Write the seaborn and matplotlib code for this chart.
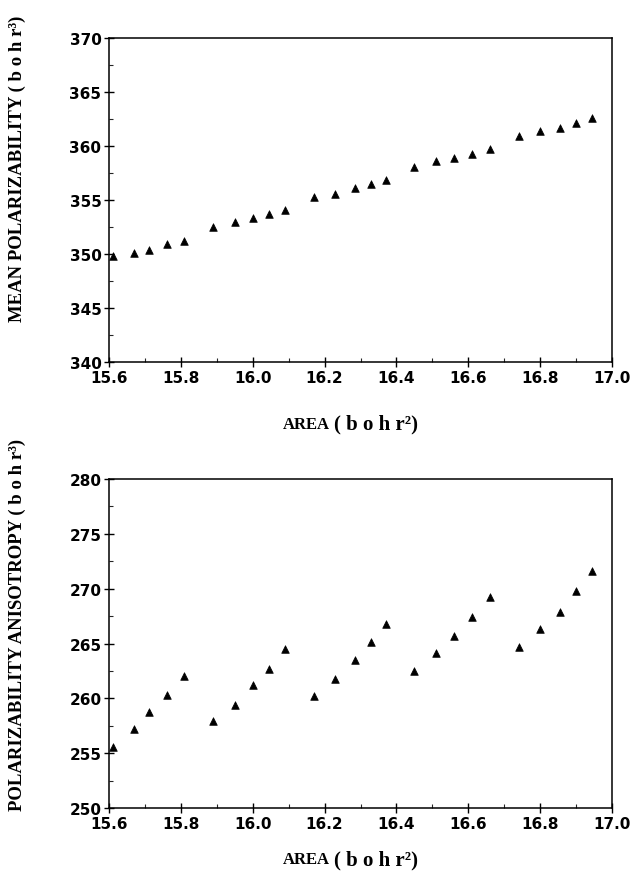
import numpy as np
import pandas as pd
import matplotlib
matplotlib.use("Agg")
import matplotlib.pyplot as plt
from matplotlib.ticker import MultipleLocator, FormatStrFormatter
import seaborn as sns

area = [15.61, 15.67, 15.71, 15.76, 15.81, 15.89, 15.95, 16.00, 16.045, 16.09,
        16.17, 16.23, 16.285, 16.33, 16.37, 16.45, 16.51, 16.56, 16.61, 16.66,
        16.74, 16.80, 16.855, 16.90, 16.945]
mean_pol = [349.8, 350.1, 350.4, 350.9, 351.2, 352.5, 353.0, 353.3, 353.7, 354.1,
            355.3, 355.6, 356.1, 356.5, 356.9, 358.1, 358.6, 358.9, 359.3, 359.7,
            360.9, 361.4, 361.7, 362.1, 362.6]
anisotropy = [255.6, 257.2, 258.8, 260.3, 262.0, 257.9, 259.4, 261.2, 262.7, 264.5,
              260.2, 261.8, 263.5, 265.1, 266.8, 262.5, 264.1, 265.7, 267.4, 269.2,
              264.7, 266.3, 267.9, 269.8, 271.6]

xticks = [15.6, 15.8, 16.0, 16.2, 16.4, 16.6, 16.8, 17.0]
yticks_top = [340, 345, 350, 355, 360, 365, 370]
yticks_bot = [250, 255, 260, 265, 270, 275, 280]

df = pd.DataFrame({"area": area, "mean": mean_pol, "aniso": anisotropy})

sns.set_style("ticks")
plt.rcParams["font.family"] = ["DejaVu Sans"]
plt.rcParams["text.color"] = "black"
plt.rcParams["axes.labelcolor"] = "black"

fig = plt.figure(figsize=(6.35, 8.79), dpi=100)
ax1 = fig.add_axes([0.1717, 0.5870, 0.7921, 0.3686])
ax2 = fig.add_axes([0.1717, 0.0796, 0.7921, 0.3743])

serif = ["Liberation Serif", "DejaVu Serif"]

def style(ax, ycol, yticks, ylabel, ylab_y, xlab_y):
    sns.scatterplot(data=df, x="area", y=ycol, ax=ax, marker="^", s=30,
                    color="black", edgecolor="black", linewidth=0.5, legend=False)
    ax.set_xlim(15.6, 17.0)
    ax.set_ylim(yticks[0], yticks[-1])
    ax.set_xticks(xticks)
    ax.set_yticks(yticks)
    ax.xaxis.set_major_formatter(FormatStrFormatter("%.1f"))
    ax.xaxis.set_minor_locator(MultipleLocator(0.1))
    ax.yaxis.set_minor_locator(MultipleLocator(2.5))
    for s in ax.spines.values():
        s.set_visible(True)
        s.set_linewidth(1.1)
        s.set_color("black")
    ax.tick_params(axis="both", which="major", direction="inout", length=7,
                   width=1.0, labelsize=11, colors="black", pad=2)
    ax.tick_params(axis="both", which="minor", direction="in", length=3, width=0.8)
    for lab in ax.get_xticklabels() + ax.get_yticklabels():
        lab.set_fontweight("bold")
    ax.set_xlabel("")
    ax.set_ylabel(ylabel, fontfamily=serif, fontweight="bold", fontsize=13.5,
                  color="black")
    ax.yaxis.set_label_coords(-0.165, ylab_y)
    ax.text(0.44, xlab_y, "AREA", transform=ax.transAxes, ha="right",
            va="center", fontfamily=serif, fontweight="bold", fontsize=12,
            color="black")
    ax.text(0.448, xlab_y, "( b o h r\u00b2)", transform=ax.transAxes, ha="left",
            va="center", fontfamily=serif, fontweight="bold", fontsize=15,
            color="black")

style(ax1, "mean", yticks_top, "MEAN POLARIZABILITY ( b o h r\u00b3)", 0.6, -0.19)
style(ax2, "aniso", yticks_bot, "POLARIZABILITY ANISOTROPY ( b o h r\u00b3)", 0.56, -0.155)

fig.savefig("out.png", dpi=100)
